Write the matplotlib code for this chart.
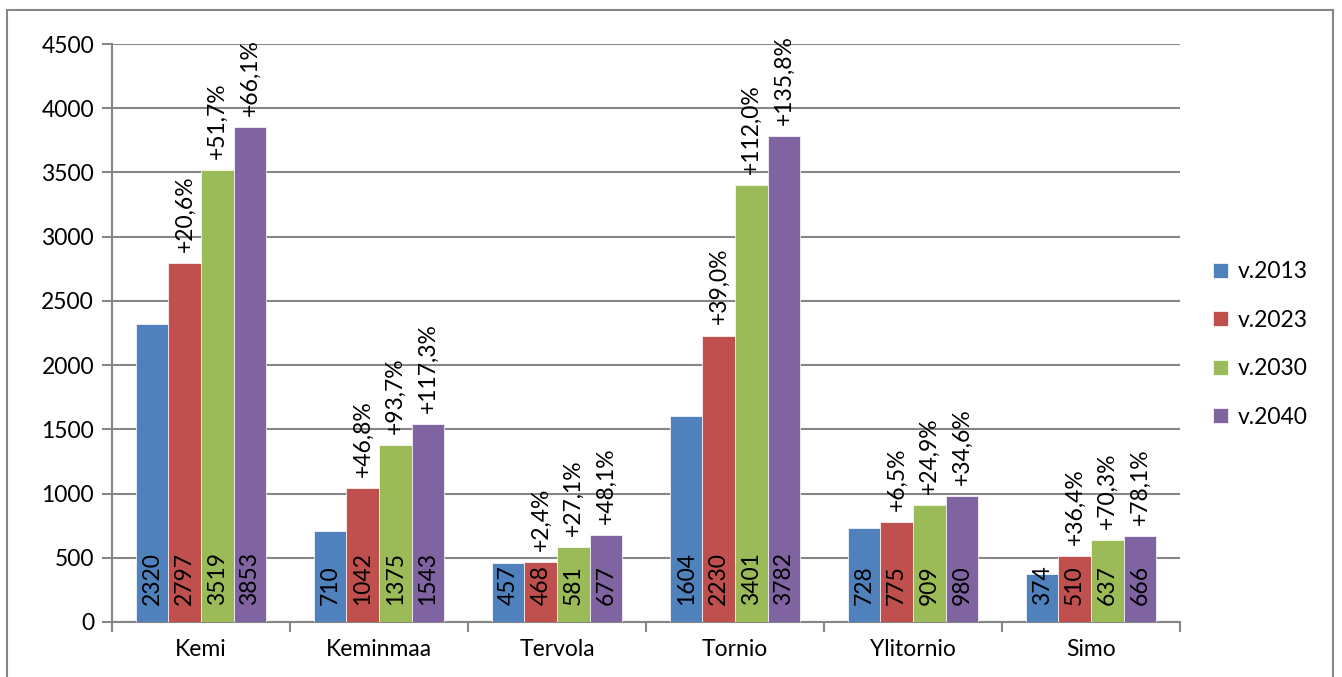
import matplotlib.pyplot as plt
import numpy as np
from matplotlib.patches import Rectangle

categories = ['Kemi', 'Keminmaa', 'Tervola', 'Tornio', 'Ylitornio', 'Simo']
series_names = ['v.2013', 'v.2023', 'v.2030', 'v.2040']
v2013 = [2320, 710, 457, 1604, 728, 374]
v2023 = [2797, 1042, 468, 2230, 775, 510]
v2030 = [3519, 1375, 581, 3401, 909, 637]
v2040 = [3853, 1543, 677, 3782, 980, 666]
pct2023 = ['+20,6%', '+46,8%', '+2,4%', '+39,0%', '+6,5%', '+36,4%']
pct2030 = ['+51,7%', '+93,7%', '+27,1%', '+112,0%', '+24,9%', '+70,3%']
pct2040 = ['+66,1%', '+117,3%', '+48,1%', '+135,8%', '+34,6%', '+78,1%']
colors = ['#4F81BD', '#C0504D', '#9BBB59', '#8064A2']
y_ticks = [0, 500, 1000, 1500, 2000, 2500, 3000, 3500, 4000, 4500]


def main():
    plt.rcParams['font.family'] = ['Lato', 'DejaVu Sans']
    fs = 16.5
    fig = plt.figure(figsize=(13.42, 6.77), dpi=100)
    ax = fig.add_axes([0.0835, 0.0813, 0.7958, 0.8537])

    # outer frame of the chart area (bottom edge is cut off in the picture)
    fig.patches.append(Rectangle((7 / 1342, -0.05), (1333 - 7) / 1342, 1 - 10 / 677 + 0.05,
                                 transform=fig.transFigure, fill=False,
                                 edgecolor='#868686', linewidth=1.5))

    x = np.arange(len(categories))
    w = 0.183
    data = [v2013, v2023, v2030, v2040]
    pcts = [None, pct2023, pct2030, pct2040]
    for i, vals in enumerate(data):
        pos = x + (i - 1.5) * w
        ax.bar(pos, vals, width=w, color=colors[i], edgecolor='white',
               linewidth=0.5, label=series_names[i], zorder=3)
        for p, v in zip(pos, vals):
            ax.annotate(str(v), (p, 0), xytext=(0, 12), textcoords='offset points',
                        rotation=90, ha='center', va='bottom', fontsize=fs, zorder=4)
        if pcts[i] is not None:
            for p, v, t in zip(pos, vals, pcts[i]):
                ax.annotate(t, (p, v), xytext=(0, 8), textcoords='offset points',
                            rotation=90, ha='center', va='bottom', fontsize=fs, zorder=4)

    ax.set_xlim(-0.5, len(categories) - 0.5)
    ax.set_ylim(0, 4500)
    ax.set_yticks(y_ticks)
    ax.set_xticks(x)
    ax.set_xticklabels(categories)
    ax.set_xticks(np.arange(len(categories) + 1) - 0.5, minor=True)
    ax.tick_params(axis='x', which='major', length=0, pad=12, labelsize=fs)
    ax.tick_params(axis='x', which='minor', length=7, width=1.5, color='#868686')
    ax.tick_params(axis='y', length=7, width=1.5, color='#868686', pad=6, labelsize=fs)

    ax.grid(axis='y', color='#868686', linewidth=1.5, zorder=0)
    for s in ['top', 'right']:
        ax.spines[s].set_visible(False)
    for s in ['left', 'bottom']:
        ax.spines[s].set_color('#868686')
        ax.spines[s].set_linewidth(1.5)

    ax.legend(loc='center left', bbox_to_anchor=(1.012, 0.48), frameon=False,
              fontsize=fs, handlelength=0.65, handleheight=0.65, handletextpad=0.4,
              labelspacing=1.2)

    plt.savefig('out.png')


if __name__ == '__main__':
    main()
